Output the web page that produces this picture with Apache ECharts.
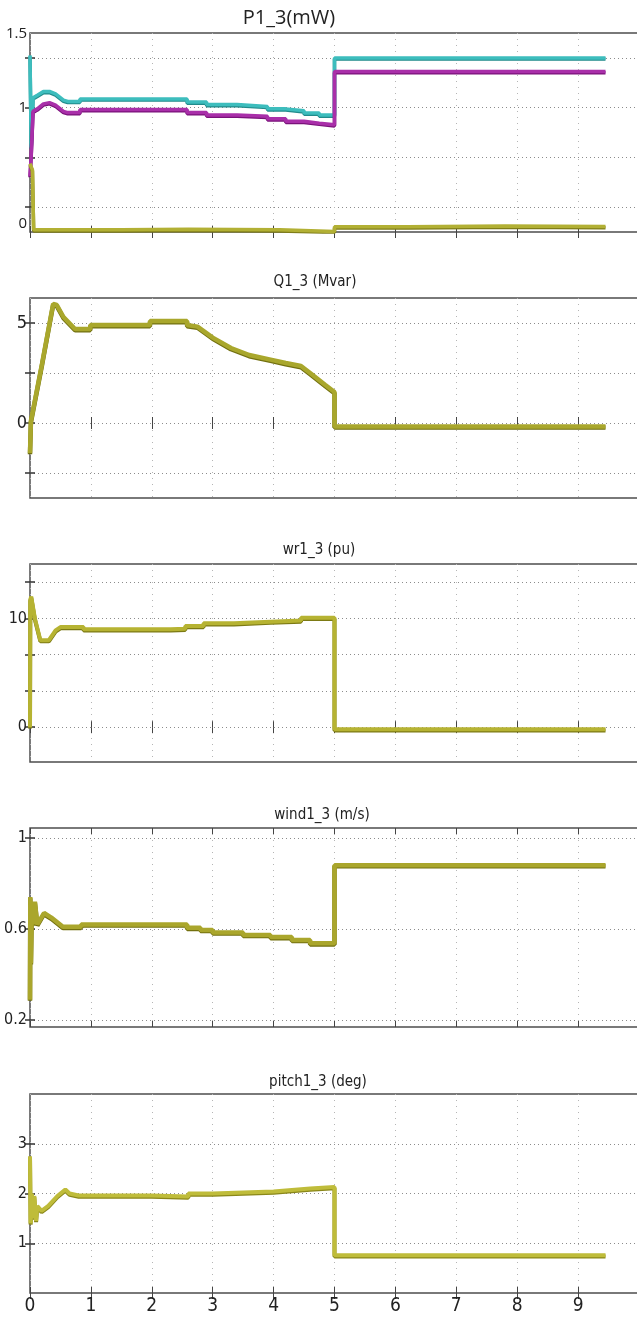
<!DOCTYPE html>
<html>
<head>
<meta charset="utf-8">
<script src="https://cdn.jsdelivr.net/npm/echarts@6/dist/echarts.min.js"></script>
<style>
html,body{margin:0;padding:0;background:#fff;}
#chart{width:637px;height:1322px;}
</style>
</head>
<body>
<div id="chart"></div>
<script>
// ---------- data (time in s) ----------
const p1Time = [0, 0.02, 0.05, 0.12, 0.22, 0.32, 0.42, 0.55, 0.62, 0.82, 0.82, 2.58, 2.58, 2.9, 2.9, 3.4, 3.4, 3.9, 3.9, 4.2, 4.2, 4.5, 4.5, 4.75, 4.75, 5.0, 5.0, 9.45];
const p1Cyan = [1.42, 0.68, 1.08, 1.1, 1.13, 1.13, 1.11, 1.06, 1.05, 1.05, 1.07, 1.07, 1.045, 1.045, 1.025, 1.025, 1.01, 1.01, 0.99, 0.99, 0.975, 0.975, 0.957, 0.957, 0.94, 0.94, 1.40, 1.40];
const p1Magenta = [0.45, 0.62, 0.97, 0.99, 1.03, 1.04, 1.02, 0.97, 0.96, 0.96, 0.985, 0.985, 0.96, 0.96, 0.94, 0.94, 0.93, 0.93, 0.91, 0.91, 0.89, 0.89, 0.875, 0.875, 0.862, 0.862, 1.29, 1.29];
const p1YellowTime = [0, 0.04, 0.06, 1.5, 1.5, 2.6, 2.6, 4.1, 4.1, 5.0, 5.0, 6.2, 6.2, 7.8, 7.8, 9.45];
const p1Yellow = [0.55, 0.5, 0.018, 0.018, 0.022, 0.022, 0.018, 0.018, 0.005, 0.005, 0.042, 0.042, 0.048, 0.048, 0.044, 0.044];

const qTime = [0, 0.015, 0.03, 0.2, 0.38, 0.44, 0.55, 0.74, 0.99, 0.99, 1.97, 1.97, 2.58, 2.58, 2.75, 3.0, 3.3, 3.6, 3.95, 4.2, 4.45, 4.6, 4.85, 5.0, 5.0, 9.45];
const qValue = [-1.5, 0.1, 0.0, 3.0, 5.95, 5.9, 5.3, 4.7, 4.7, 4.9, 4.9, 5.1, 5.1, 4.9, 4.82, 4.27, 3.75, 3.4, 3.17, 3.0, 2.85, 2.5, 1.9, 1.55, -0.17, -0.17];

const wrTime = [0, 0.005, 0.02, 0.08, 0.17, 0.31, 0.42, 0.5, 0.88, 0.88, 2.31, 2.31, 2.55, 2.55, 2.85, 2.85, 3.35, 3.35, 3.95, 3.95, 4.45, 4.45, 5.0, 5.0, 9.45];
const wrValue = [0, 11.7, 12.0, 10.0, 8.0, 8.0, 8.9, 9.2, 9.2, 9.0, 9.0, 9.05, 9.05, 9.3, 9.3, 9.55, 9.55, 9.7, 9.7, 9.8, 9.8, 10.05, 10.05, -0.2, -0.2];

const windTime = [0, 0.005, 0.015, 0.03, 0.05, 0.08, 0.12, 0.23, 0.35, 0.54, 0.84, 0.84, 2.58, 2.58, 2.8, 2.8, 3.0, 3.0, 3.5, 3.5, 3.95, 3.95, 4.3, 4.3, 4.6, 4.6, 5.0, 5.0, 9.45];
const windValue = [0.29, 0.74, 0.45, 0.7, 0.62, 0.72, 0.62, 0.67, 0.65, 0.61, 0.61, 0.62, 0.62, 0.605, 0.605, 0.596, 0.596, 0.585, 0.585, 0.574, 0.574, 0.565, 0.565, 0.552, 0.552, 0.537, 0.537, 0.88, 0.88];

const pitchTime = [0, 0.01, 0.03, 0.05, 0.07, 0.1, 0.12, 0.19, 0.3, 0.45, 0.58, 0.65, 0.8, 2.0, 2.0, 2.6, 2.6, 3.0, 3.0, 4.0, 4.0, 4.3, 4.3, 4.6, 4.6, 5.0, 5.0, 9.45];
const pitchValue = [2.75, 1.4, 2.0, 1.5, 1.95, 1.45, 1.75, 1.65, 1.75, 1.95, 2.08, 2.0, 1.96, 1.96, 1.94, 1.94, 2.0, 2.0, 2.04, 2.04, 2.07, 2.07, 2.1, 2.1, 2.13, 2.13, 0.76, 0.76];

// ---------- axes / labels ----------
const xLabelValues = [0, 1, 2, 3, 4, 5, 6, 7, 8, 9];
const titles = ['P1_3(mW)', 'Q1_3 (Mvar)', 'wr1_3 (pu)', 'wind1_3 (m/s)', 'pitch1_3 (deg)'];
const yRanges = [[0, 1.6], [-3.75, 6.25], [-3.2, 15], [0.17, 1.043], [0, 4]];
const yGridValues = [[0.2, 0.6, 1.0, 1.4], [-2.5, 0, 2.5, 5], [0, 10/3, 20/3, 10, 40/3], [0.2, 0.6, 1.0], [1, 2, 3]];
const yLabelValues = [[0, 1, 1.5], [0, 5], [0, 10], [0.2, 0.6, 1], [1, 2, 3]];

// ---------- layout ----------
const panels = [
  {top: 33, height: 199, tx: 289, ty: 18, tFont: 'Open Sans', tSize: 20, lFont: 'Open Sans', lSize: 15},
  {top: 298, height: 200, tx: 315, ty: 282, tFont: 'narrow', tSize: 15, lFont: 'narrow', lSize: 18},
  {top: 564, height: 198, tx: 319, ty: 550, tFont: 'narrow', tSize: 15, lFont: 'narrow', lSize: 16},
  {top: 828, height: 199, tx: 322, ty: 815, tFont: 'narrow', tSize: 15, lFont: 'narrow', lSize: 16},
  {top: 1094, height: 199, tx: 318, ty: 1082, tFont: 'narrow', tSize: 15, lFont: 'narrow', lSize: 16}
];
const fontStack = (f) => f === 'Open Sans' ? "'Open Sans', sans-serif" : "'Liberation Sans Narrow', 'DejaVu Sans Condensed', 'Liberation Sans', sans-serif";

const zip = (t, v) => t.map((x, i) => [x, v[i]]);

const grid = [], xAxis = [], yAxis = [], title = [], series = [];
panels.forEach((p, i) => {
  grid.push({left: 30, right: -2, top: p.top, height: p.height, show: true,
    borderColor: '#4d4d4d', borderWidth: 1.5, backgroundColor: '#fff',
    containLabel: false, outerBoundsMode: 'none'});
  title.push({text: titles[i], left: p.tx, top: p.ty, textAlign: 'center', textVerticalAlign: 'middle', padding: 0,
    textStyle: {fontFamily: fontStack(p.tFont), fontSize: p.tSize, fontWeight: 'normal', color: '#222'}});
  const last = i === panels.length - 1;
  xAxis.push({type: 'value', gridIndex: i, min: 0, max: 10, interval: 1, position: 'bottom',
    axisLine: {show: false},
    axisTick: {show: true, inside: true, length: 6, lineStyle: {color: '#444', width: 1}},
    axisLabel: {show: last, customValues: xLabelValues, margin: 4, fontFamily: fontStack('narrow'), fontSize: 19, color: '#222'},
    splitLine: {show: true, lineStyle: {type: [1, 5], color: '#b5b5b5', width: 1}}});
  xAxis.push({type: 'value', gridIndex: i, min: 0, max: 10, interval: 1, position: 'top',
    axisLine: {show: false},
    axisTick: {show: true, inside: true, length: 6, lineStyle: {color: '#444', width: 1}},
    axisLabel: {show: false}, splitLine: {show: false}});
  const rng = yRanges[i];
  const isP1 = i === 0;
  const lblStyle = {fontFamily: fontStack(p.lFont), fontSize: p.lSize, color: '#222'};
  yAxis.push({type: 'value', gridIndex: i, min: rng[0], max: rng[1], position: 'left',
    axisLine: {show: false},
    axisTick: {show: true, inside: true, length: 5, customValues: yGridValues[i], lineStyle: {color: '#333', width: 1.5}},
    axisLabel: Object.assign({show: true, customValues: yLabelValues[i], margin: 3,
      formatter: isP1 ? (v) => (v === 1.5 ? '{up|1.5}' : v === 0 ? '{lo|0}' : '{n|' + v + '}') : (v) => String(v),
      rich: isP1 ? {up: Object.assign({padding: [0, 0, 24, 0]}, lblStyle),
                    lo: Object.assign({padding: [0, 0, 16, 0]}, lblStyle),
                    n: Object.assign({}, lblStyle)} : undefined}, lblStyle),
    splitLine: {show: true, lineStyle: {type: [1, 3], color: '#8c8c8c', width: 1}}});
  yAxis.push({type: 'value', gridIndex: i, min: rng[0], max: rng[1], position: 'right',
    axisLine: {show: false},
    axisTick: {show: true, inside: true, length: 5, customValues: yGridValues[i], lineStyle: {color: '#333', width: 1.5}},
    axisLabel: {show: false}, splitLine: {show: false}});
});

const mk = (name, xi, yi, data, color, edge, width) => ({
  name, type: 'line', xAxisIndex: xi, yAxisIndex: yi, data, showSymbol: false, symbol: 'none',
  lineStyle: {color, width, shadowColor: edge, shadowBlur: 0, shadowOffsetY: 1.2}, animation: false, clip: true, z: 3
});

series.push(mk('P1 cyan', 0, 0, zip(p1Time, p1Cyan), '#3dbdbd', '#218b8b', 3.5));
series.push(mk('P1 magenta', 0, 0, zip(p1Time, p1Magenta), '#a92fa9', '#7a127a', 3.5));
series.push(mk('P1 yellow', 0, 0, zip(p1YellowTime, p1Yellow), '#b2b034', '#7f7d18', 3.5));
series.push(mk('Q1_3', 2, 2, zip(qTime, qValue), '#a9a72c', '#727010', 4.5));
series.push(mk('wr1_3', 4, 4, zip(wrTime, wrValue), '#b6b332', '#7c7a14', 4));
series.push(mk('wind1_3', 6, 6, zip(windTime, windValue), '#aaa62c', '#73700f', 4.5));
series.push(mk('pitch1_3', 8, 8, zip(pitchTime, pitchValue), '#bfbc3a', '#8a8719', 4));

const chart = echarts.init(document.getElementById('chart'), null, {renderer: 'canvas'});
chart.setOption({backgroundColor: '#fff', animation: false, title, grid, xAxis, yAxis, series});
</script>
</body>
</html>
